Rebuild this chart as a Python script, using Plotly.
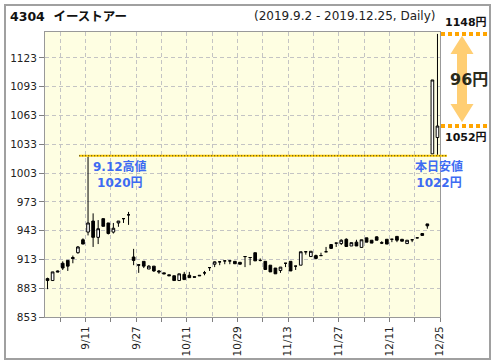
import plotly.graph_objects as go

# ---------------- data ----------------
dates = ["9/2","9/3","9/4","9/5","9/6","9/9","9/10","9/11","9/12","9/13","9/17","9/18","9/19","9/20",
         "9/24","9/25","9/26","9/27","9/30",
         "10/1","10/2","10/3","10/4","10/7","10/8","10/9","10/10","10/11","10/15","10/16","10/17",
         "10/18","10/21","10/23","10/24","10/25","10/28","10/29","10/30","10/31",
         "11/1","11/5","11/6","11/7","11/8","11/11","11/12","11/13","11/14","11/15","11/18","11/19",
         "11/20","11/21","11/22","11/25","11/26","11/27","11/28","11/29",
         "12/2","12/3","12/4","12/5","12/6","12/9","12/10","12/11","12/12","12/13","12/16","12/17",
         "12/18","12/19","12/20","12/23","12/24","12/25"]

opens = [893, 891, 901, 909, 912, 915, 920, 933.5, 941.5, 953, 936, 955.5, 951, 941.5, 951, 955.5, 959.5,
         915.5, 907.5, 911, 903, 906, 901, 899, 897, 896, 891, 897.5, 896.5, 895, 896.5, 899, 904.5,
         908, 910.5, 911.5, 911.5, 911, 910, 916, 915, 920, 912, 911, 907, 904, 901.5, 909, 911, 906,
         907, 921, 916, 917, 917, 921, 928.5, 930, 929.5, 934, 927, 931, 925.5, 935.5, 933, 936.5,
         930.5, 934, 934, 937, 934, 929.5, 933.5, 935.5, 940, 950, 1023, 1040]
highs = [894, 900, 901.5, 911, 912, 917, 927, 935, 1020, 961, 954, 955.5, 951, 951, 953, 955.5, 962.5,
         924, 908, 911, 907, 906, 902, 899, 897, 896, 898, 900, 900, 895, 896.5, 901, 904.5,
         911, 910.5, 911.5, 911.5, 911, 910, 916, 915, 920, 914, 911, 907, 904, 905, 909, 911, 906,
         921, 921, 921.5, 918, 920, 926, 929, 930, 934, 935, 930.5, 933.5, 933.5, 935.5, 933, 937,
         932, 934, 934, 937, 934, 933, 933.5, 936, 940, 950, 1100, 1148]
lows = [882, 891, 900, 902, 901, 909, 919, 929, 938, 926, 929, 947.5, 939, 940, 947, 951, 949,
        907, 899, 904, 903, 900, 898, 898, 896, 891, 891, 892, 894, 894.5, 896, 896.5, 901,
        905, 907, 908, 908, 908.5, 908, 905, 907, 911.5, 911, 902.5, 900, 898, 899, 905, 901, 902,
        907, 918, 916, 913, 917, 921, 924, 926, 928, 926, 927, 927, 925.5, 931, 930, 933,
        929, 929, 931, 931, 932, 929.5, 931, 935, 938, 945, 1023, 1022]
closes = [891, 900, 900, 904, 906, 914, 926, 929, 951, 936, 945, 947.5, 940, 945.5, 953, 955.5, 959.5,
          912, 907, 906, 906, 901, 900, 898, 896, 891, 898, 892, 894, 894.5, 896, 899, 904.5,
          910.5, 910.5, 911.5, 911.5, 908.5, 908, 916, 915, 911.5, 912, 902.5, 900, 898, 905, 909, 901, 906,
          921, 921, 921.5, 914, 917, 921, 924.5, 930, 933, 926.5, 930.5, 927, 933.5, 931, 930, 933,
          930, 929, 934, 933, 932, 933, 933.5, 935.5, 938, 948, 1100, 1052]

yticks = [853, 883, 913, 943, 973, 1003, 1033, 1063, 1093, 1123]
y_range = [853, 1150]
xtick_every = 5
xlabel_every = 10

title_code = "4304"
title_name = "イーストアー"
period_text = "(2019.9.2 - 2019.12.25, Daily)"
past_high_idx = 8          # 9/12
past_high_label = "9.12高値"
today_low_label = "本日安値"

# ---------------- geometry helpers ----------------
W, H = 496, 364
L, R, T, B = 45, 56, 32, 47
PW, PH = W - L - R, H - T - B
def fx(px):
    return (px - L) / PW
def fy(py):
    return (H - B - py) / PH

n = len(dates)
xs = list(range(n))
x_range = [-0.5, n - 0.5]
def xp(v):  # data x -> paper
    return (v - x_range[0]) / (x_range[1] - x_range[0])

# x ticks at slot boundaries (every 5 bars from the right edge)
tickvals, ticktext = [], []
k = n - 1
while k >= 0:
    tickvals.append(k + 0.5)
    ticktext.append(dates[k] if (n - 1 - k) % xlabel_every == 0 else "")
    k -= xtick_every
tickvals.reverse(); ticktext.reverse()

FONT = "DejaVu Sans, Noto Sans CJK JP, sans-serif"
BLUE = "#3d6bf2"
ORANGE = "#ffa500"

fig = go.Figure()
fig.add_trace(go.Candlestick(
    x=xs, open=opens, high=highs, low=lows, close=closes,
    increasing=dict(line=dict(color="black", width=1), fillcolor="white"),
    decreasing=dict(line=dict(color="black", width=1), fillcolor="black"),
    whiskerwidth=0, showlegend=False, hoverinfo="skip",
))

hi_val = highs[past_high_idx]
low_today = lows[-1]
line_y = (hi_val + low_today) / 2
last_high = highs[-1]
last_close = closes[-1]
diff = last_high - last_close

shapes = []
# outer frame
shapes.append(dict(type="rect", xref="paper", yref="paper", x0=fx(5), x1=fx(490), y0=fy(359), y1=fy(5),
                   line=dict(color="#a0a0a0", width=2), layer="below"))
# high / low reference line
shapes.append(dict(type="line", xref="paper", yref="y", x0=xp(past_high_idx - 1.75), x1=fx(447),
                   y0=line_y, y1=line_y, line=dict(color="#ffcc00", width=2)))
shapes.append(dict(type="line", xref="paper", yref="y", x0=xp(past_high_idx - 1.75), x1=fx(447),
                   y0=line_y, y1=line_y, line=dict(color="#222", width=1, dash="1px,2px")))
# orange dotted markers for last high / close
for yv in (last_high, last_close):
    shapes.append(dict(type="line", xref="paper", yref="y", x0=fx(441), x1=fx(490),
                       y0=yv, y1=yv, line=dict(color=ORANGE, width=4, dash="4px,3px")))
# double headed arrow
cx = fx(462)
hw = 11.5 / PW
sw = 5 / PW
top_tip = last_high - 2
bot_tip = last_close + 4
head = 19
path = (f"M {cx} {top_tip} L {cx+hw} {top_tip-head} L {cx+sw} {top_tip-head} "
        f"L {cx+sw} {bot_tip+head} L {cx+hw} {bot_tip+head} L {cx} {bot_tip} "
        f"L {cx-hw} {bot_tip+head} L {cx-sw} {bot_tip+head} L {cx-sw} {top_tip-head} "
        f"L {cx-hw} {top_tip-head} Z")
shapes.append(dict(type="path", xref="paper", yref="y", path=path,
                   fillcolor="rgba(255,165,0,0.55)", line=dict(width=0)))

annotations = [
    dict(xref="paper", yref="paper", x=fx(8), y=fy(16), xanchor="left", yanchor="middle",
         text=f"<b>{title_code}  {title_name}</b>", showarrow=False,
         font=dict(family=FONT, size=12.5, color="#111")),
    dict(xref="paper", yref="paper", x=fx(437), y=fy(16), xanchor="right", yanchor="middle",
         text=period_text, showarrow=False, font=dict(family=FONT, size=12, color="#222")),
    dict(xref="paper", yref="y", x=fx(466), y=last_high, xanchor="center", yanchor="bottom", yshift=3,
         text=f"<b>{last_high:.0f}円</b>", showarrow=False, font=dict(family=FONT, size=11, color="#111")),
    dict(xref="paper", yref="y", x=fx(466), y=last_close, xanchor="center", yanchor="top", yshift=-3,
         text=f"<b>{last_close:.0f}円</b>", showarrow=False, font=dict(family=FONT, size=11, color="#111")),
    dict(xref="paper", yref="y", x=fx(468.5), y=(last_high + last_close) / 2, xanchor="center",
         yanchor="middle", text=f"<b>{diff:.0f}円</b>", showarrow=False,
         font=dict(family=FONT, size=16, color="#2a2a1a")),
    dict(xref="x", yref="y", x=past_high_idx, y=line_y, xanchor="left", yanchor="top", xshift=3, yshift=-1,
         text=f"<b>{past_high_label}<br>{hi_val:.0f}円</b>", showarrow=False, align="center",
         font=dict(family=FONT, size=12, color=BLUE)),
    dict(xref="x", yref="y", x=n - 1, y=line_y, xanchor="center", yanchor="top", xshift=2, yshift=-1,
         text=f"<b>{today_low_label}<br>{low_today:.0f}円</b>", showarrow=False, align="center",
         font=dict(family=FONT, size=12, color=BLUE)),
]

fig.update_layout(
    width=W, height=H,
    margin=dict(l=L, r=R, t=T, b=B, pad=0),
    paper_bgcolor="white",
    plot_bgcolor="#fefee2",
    font=dict(family=FONT, size=10.5, color="#222"),
    shapes=shapes, annotations=annotations,
    showlegend=False,
    xaxis=dict(range=x_range, tickmode="array", tickvals=tickvals, ticktext=ticktext,
               tickangle=-90, ticks="outside", ticklen=4, tickcolor="#808080",
               showgrid=True, gridcolor="#c4c4c4", griddash="4px,3px", gridwidth=1,
               showline=True, linecolor="#999", linewidth=1, mirror=True,
               zeroline=False, rangeslider=dict(visible=False), fixedrange=True, automargin=False,
               tickfont=dict(family=FONT, size=10.5, color="#222")),
    yaxis=dict(range=y_range, tickmode="array", tickvals=yticks,
               ticks="outside", ticklen=5, tickcolor="#808080",
               showgrid=True, gridcolor="#c4c4c4", griddash="4px,3px", gridwidth=1,
               showline=True, linecolor="#999", linewidth=1, mirror=True,
               zeroline=False, fixedrange=True, automargin=False,
               tickfont=dict(family=FONT, size=10.5, color="#222")),
    boxgap=0.25,
)

fig.write_html("out.html", config={"displayModeBar": False},
               post_script="document.body.style.margin='0px';document.body.style.overflow='hidden';")
